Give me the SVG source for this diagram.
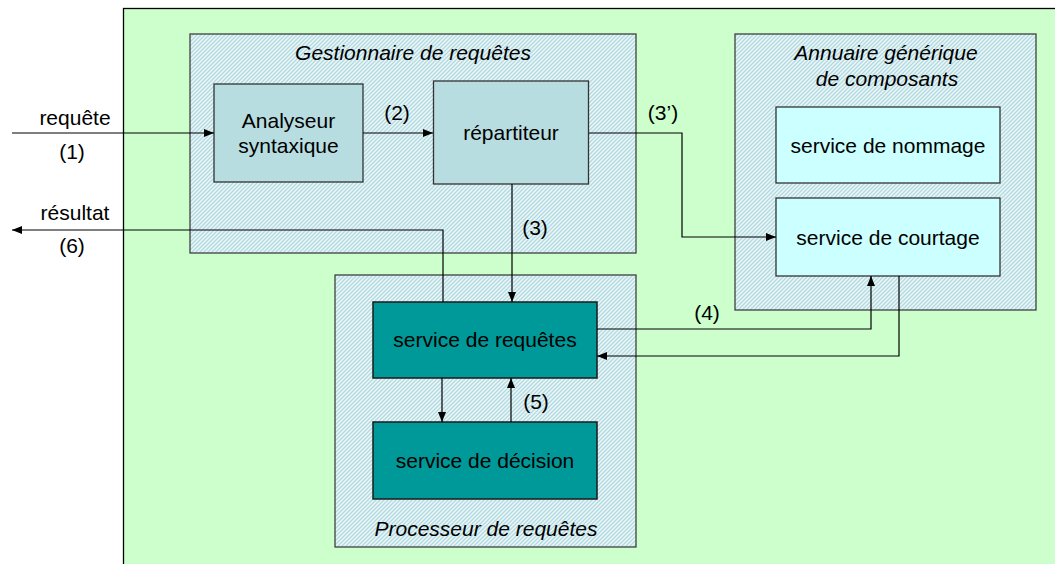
<svg xmlns="http://www.w3.org/2000/svg" width="1055" height="564" viewBox="0 0 1055 564">
<defs>
<pattern id="hatch" patternUnits="userSpaceOnUse" width="4" height="4">
<rect width="4" height="4" fill="#EEF7F8"/>
<path d="M-1,1 l2,-2 M0,4 l4,-4 M3,5 l2,-2" stroke="#B0DAE2" stroke-width="1.3"/>
</pattern>
<marker id="arr" viewBox="0 0 10 8" refX="10" refY="4" markerWidth="10" markerHeight="8" markerUnits="userSpaceOnUse" orient="auto">
<path d="M0,0 L10,4 L0,8 z" fill="#000"/>
</marker>
</defs>
<style>
text{font-family:"Liberation Sans",Arial,sans-serif;font-size:21px;fill:#000;text-anchor:middle}
.it{font-style:italic}
.grp{fill:url(#hatch);stroke:#404040;stroke-width:1.3}
.blue{fill:#B8DDE1;stroke:#333;stroke-width:1.3}
.cyan{fill:#CCFFFF;stroke:#333;stroke-width:1.3}
.teal{fill:#009999;stroke:#1a1a1a;stroke-width:1.5}
.c{fill:none;stroke:#000;stroke-width:1.2}
</style>
<rect x="123.5" y="8.5" width="940" height="570" fill="#CCFFCC" stroke="#000" stroke-width="1.3"/>

<g id="gestionnaire">
<rect class="grp" x="190" y="34" width="446" height="219"/>
<text class="it" x="413" y="60">Gestionnaire de requêtes</text>
</g>
<g id="annuaire">
<rect class="grp" x="735" y="34" width="301" height="276"/>
<text class="it" x="886" y="60">Annuaire générique</text>
<text class="it" x="887" y="86">de composants</text>
</g>
<g id="processeur">
<rect class="grp" x="335" y="275" width="301" height="272"/>
<text class="it" x="486" y="536">Processeur de requêtes</text>
</g>
<g id="analyseur">
<rect class="blue" x="214" y="84" width="149" height="98"/>
<text x="288.5" y="128">Analyseur</text>
<text x="288.5" y="153">syntaxique</text>
</g>
<g id="repartiteur">
<rect class="blue" x="433.5" y="81" width="155" height="103"/>
<text x="511" y="140">répartiteur</text>
</g>
<g id="nommage">
<rect class="cyan" x="776" y="107" width="224" height="76"/>
<text x="888" y="153">service de nommage</text>
</g>
<g id="courtage">
<rect class="cyan" x="776" y="198" width="224" height="78"/>
<text x="888" y="245">service de courtage</text>
</g>
<g id="requetes">
<rect class="teal" x="373" y="302" width="224" height="76"/>
<text x="485" y="347">service de requêtes</text>
</g>
<g id="decision">
<rect class="teal" x="373" y="422" width="224" height="77"/>
<text x="485" y="468">service de décision</text>
</g>

<g id="connectors">
<path class="c" d="M12,133 H214" marker-end="url(#arr)"/>
<path class="c" d="M363,133 H433" marker-end="url(#arr)"/>
<path class="c" d="M589,133 H682 V237 H776" marker-end="url(#arr)"/>
<path class="c" d="M512,184 V302" marker-end="url(#arr)"/>
<path class="c" d="M443,302 V230 H12" marker-end="url(#arr)"/>
<path class="c" d="M597,329 H871 V276" marker-end="url(#arr)"/>
<path class="c" d="M899,276 V356 H597" marker-end="url(#arr)"/>
<path class="c" d="M442,378 V422" marker-end="url(#arr)"/>
<path class="c" d="M511,422 V378" marker-end="url(#arr)"/>
<text x="75" y="125">requête</text>
<text x="72" y="159">(1)</text>
<text x="397" y="120">(2)</text>
<text x="663" y="120">(3’)</text>
<text x="535" y="235">(3)</text>
<text x="75" y="220">résultat</text>
<text x="72" y="253">(6)</text>
<text x="707" y="320">(4)</text>
<text x="536" y="409">(5)</text>
</g>
</svg>
